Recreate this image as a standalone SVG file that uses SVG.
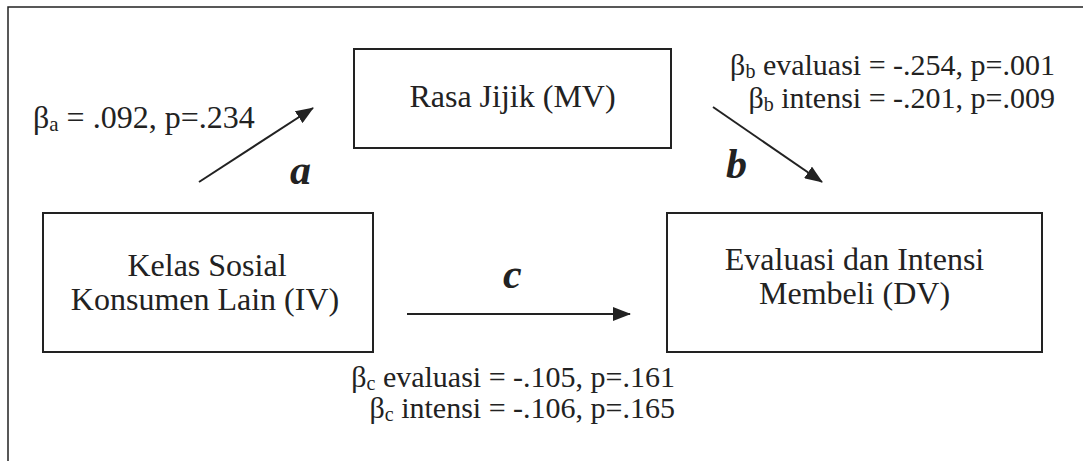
<svg xmlns="http://www.w3.org/2000/svg" width="1083" height="461" viewBox="0 0 1083 461">
<style>
.bg{fill:#ffffff}
.frame{fill:none;stroke:#222;stroke-width:1.5}
.box{fill:#ffffff;stroke:#222;stroke-width:2}
.t{font-family:"Liberation Serif","Times New Roman",serif;fill:#222}
.node{font-size:32px;text-anchor:middle}
.stat{font-size:30px}
.stat2{font-size:32px}
.sub{font-size:20px}
.lbl{font-size:42px;font-weight:bold;font-style:italic}
.conn{stroke:#222;stroke-width:2;fill:none}
</style>
<defs>
<marker id="ah" markerWidth="18" markerHeight="14" refX="17" refY="7" orient="auto" markerUnits="userSpaceOnUse">
<path d="M0,0 L18,7 L0,14 Z" fill="#222"/>
</marker>
</defs>
<rect class="bg" x="0" y="0" width="1083" height="461"/>
<rect class="frame" x="8" y="7" width="1090" height="470"/>

<g id="node-mv">
<rect class="box" x="354" y="49" width="317" height="99"/>
<text class="t node" x="512.5" y="107">Rasa Jijik (MV)</text>
</g>
<g id="node-iv">
<rect class="box" x="43" y="213" width="330" height="139"/>
<text class="t node" x="207" y="276">Kelas Sosial</text>
<text class="t node" x="205" y="310">Konsumen Lain (IV)</text>
</g>
<g id="node-dv">
<rect class="box" x="667" y="213" width="375" height="139"/>
<text class="t node" x="854.5" y="270">Evaluasi dan Intensi</text>
<text class="t node" x="854.5" y="304">Membeli (DV)</text>
</g>

<g id="connectors">
<line class="conn" x1="199" y1="182" x2="313" y2="108" marker-end="url(#ah)"/>
<line class="conn" x1="713" y1="107" x2="822" y2="182" marker-end="url(#ah)"/>
<line class="conn" x1="407" y1="314" x2="630" y2="314" marker-end="url(#ah)"/>
</g>

<g id="labels">
<text class="t lbl" x="290" y="184">a</text>
<text class="t lbl" x="726" y="178">b</text>
<text class="t lbl" x="503" y="288">c</text>

<text class="t stat2" x="33" y="128">β<tspan class="sub" dy="3" style="font-size:21px">a</tspan><tspan dy="-3"> = .092, p=.234</tspan></text>

<text class="t stat" x="1055" y="75" text-anchor="end">β<tspan class="sub" dy="3">b</tspan><tspan dy="-3"> evaluasi = -.254, p=.001</tspan></text>
<text class="t stat" x="1055" y="108" text-anchor="end">β<tspan class="sub" dy="3">b</tspan><tspan dy="-3"> intensi = -.201, p=.009</tspan></text>

<text class="t stat" x="675" y="387" text-anchor="end">β<tspan class="sub" dy="3">c</tspan><tspan dy="-3"> evaluasi = -.105, p=.161</tspan></text>
<text class="t stat" x="675" y="418" text-anchor="end">β<tspan class="sub" dy="3">c</tspan><tspan dy="-3"> intensi = -.106, p=.165</tspan></text>
</g>
</svg>
